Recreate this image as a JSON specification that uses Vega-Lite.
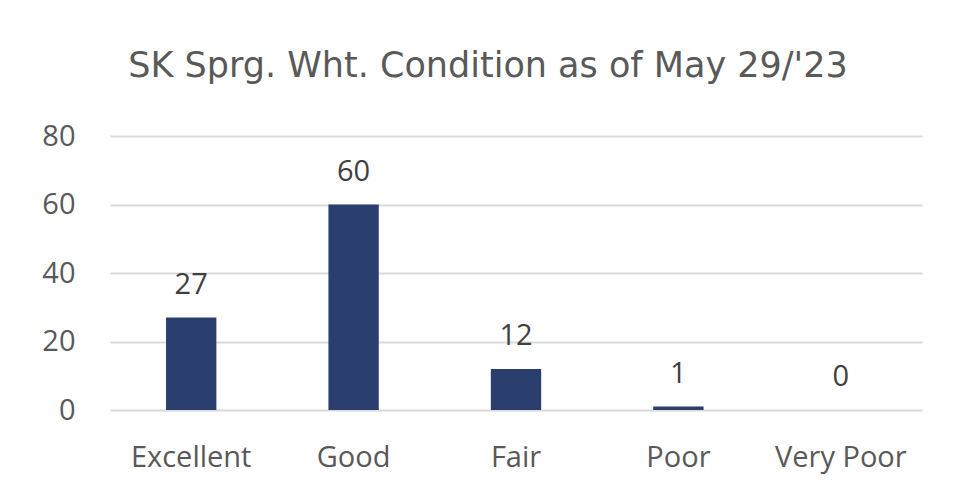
{
  "$schema": "https://vega.github.io/schema/vega-lite/v6.json",
  "width": 812,
  "height": 274,
  "autosize": "none",
  "padding": {"left": 110, "top": 136, "right": 31, "bottom": 91},
  "background": "white",
  "title": {
    "text": "SK Sprg. Wht. Condition as of May 29/'23",
    "font": "DejaVu Sans",
    "fontSize": 35,
    "fontWeight": "normal",
    "color": "#595959",
    "anchor": "middle",
    "dx": -28,
    "offset": 38
  },
  "data": {
    "values": [
      {"condition": "Excellent", "value": 27},
      {"condition": "Good", "value": 60},
      {"condition": "Fair", "value": 12},
      {"condition": "Poor", "value": 1},
      {"condition": "Very Poor", "value": 0}
    ]
  },
  "encoding": {
    "x": {
      "field": "condition",
      "type": "nominal",
      "sort": null,
      "scale": {"paddingInner": 0.69, "paddingOuter": 0.345},
      "axis": {
        "title": null,
        "labelAngle": 0,
        "labelFont": "Open Sans",
        "labelFontSize": 29,
        "labelColor": "#595959",
        "labelPadding": 33,
        "domain": false,
        "ticks": false
      }
    },
    "y": {
      "field": "value",
      "type": "quantitative",
      "scale": {"domain": [0, 80]},
      "axis": {
        "title": null,
        "values": [0, 20, 40, 60, 80],
        "labelFont": "Open Sans",
        "labelFontSize": 29,
        "labelColor": "#595959",
        "labelPadding": 35,
        "domain": false,
        "ticks": false,
        "grid": true,
        "gridColor": "#d9d9d9",
        "gridWidth": 2
      }
    }
  },
  "layer": [
    {"mark": {"type": "bar", "color": "#2a3f6e"}},
    {
      "mark": {"type": "text", "baseline": "bottom", "dy": -18, "font": "Open Sans", "fontSize": 29, "color": "#404040"},
      "encoding": {"text": {"field": "value", "type": "quantitative"}}
    }
  ],
  "config": {"view": {"stroke": null}}
}
